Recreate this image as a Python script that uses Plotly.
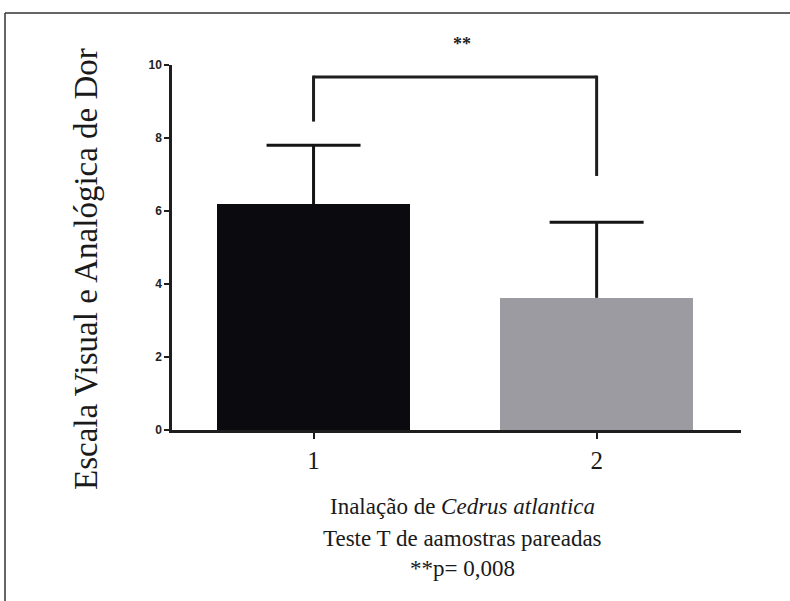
import plotly.graph_objects as go

# Data
groups = [1, 2]
means = [6.18, 3.62]
sd_upper = [1.62, 2.07]
bar_colors = ["#0a0a0f", "#9b9ba1"]
y_ticks = [0, 2, 4, 6, 8, 10]

# significance bracket (data units)
bracket_x = [1, 2]
bracket_top = 9.67
bracket_left_end = 8.45
bracket_right_end = 6.96
sig_label = "**"

x_title_lines = [
    "Inalação de <i>Cedrus atlantica</i>",
    "Teste T de aamostras pareadas",
    "**p= 0,008",
]
y_title = "Escala Visual e Analógica de Dor"

W, H = 790, 601
L, R, T, B = 172, 49, 65, 171
pw, ph = W - L - R, H - T - B
bar_width = 0.68
cap_half = 0.166

def px_x(px):
    return (px - L) / pw

def px_y(py):
    return (H - B - py) / ph

fig = go.Figure()
fig.add_trace(go.Bar(
    x=groups, y=means, width=bar_width,
    marker=dict(color=bar_colors, line=dict(width=0)),
    showlegend=False,
))

line_col = "#1e1e1e"
shapes = []
# error bars (upper only) in data coordinates
for g, m, s in zip(groups, means, sd_upper):
    shapes.append(dict(type="line", xref="x", yref="y", x0=g, x1=g, y0=m, y1=m + s,
                       line=dict(color="#151515", width=3)))
    shapes.append(dict(type="line", xref="x", yref="y", x0=g - cap_half, x1=g + cap_half,
                       y0=m + s, y1=m + s, line=dict(color="#151515", width=3)))
shapes += [
    dict(type="line", xref="x", yref="y", x0=bracket_x[0], x1=bracket_x[1],
         y0=bracket_top, y1=bracket_top, line=dict(color=line_col, width=3)),
    dict(type="line", xref="x", yref="y", x0=bracket_x[0], x1=bracket_x[0],
         y0=bracket_top + 0.04, y1=bracket_left_end, line=dict(color=line_col, width=3)),
    dict(type="line", xref="x", yref="y", x0=bracket_x[1], x1=bracket_x[1],
         y0=bracket_top + 0.04, y1=bracket_right_end, line=dict(color=line_col, width=3)),
    # frame lines
    dict(type="line", xref="paper", yref="paper", x0=px_x(5), x1=px_x(792),
         y0=px_y(13), y1=px_y(13), line=dict(color="#333333", width=1.5)),
    dict(type="line", xref="paper", yref="paper", x0=px_x(5), x1=px_x(5),
         y0=px_y(13), y1=px_y(603), line=dict(color="#333333", width=1.5)),
]

annotations = [
    dict(text=sig_label, x=px_x(462), y=px_y(44), xref="paper", yref="paper",
         showarrow=False, yanchor="middle",
         font=dict(family="Liberation Serif", size=18, color="#222222", weight="bold")),
    dict(text=y_title, x=px_x(86), y=px_y(269), xref="paper", yref="paper",
         showarrow=False, textangle=-90, xanchor="center", yanchor="middle",
         font=dict(family="Liberation Serif", size=33, color="#1a1a1a")),
]
for line, py in zip(x_title_lines, [507, 538, 568]):
    annotations.append(dict(text=line, x=px_x(462), y=px_y(py), xref="paper",
                            yref="paper", showarrow=False, yanchor="middle",
                            font=dict(family="Liberation Serif", size=23,
                                      color="#1a1a1a")))

fig.update_layout(
    width=W, height=H,
    margin=dict(l=L, r=R, t=T, b=B),
    paper_bgcolor="white", plot_bgcolor="white",
    shapes=shapes, annotations=annotations,
    bargap=0,
    xaxis=dict(range=[0.5, 2.51], tickvals=groups, ticktext=[str(g) for g in groups],
               showgrid=False, zeroline=False, showline=True, linecolor="#1e1e1e",
               linewidth=2.5, ticks="outside", ticklen=6, tickwidth=2,
               tickcolor="#1e1e1e",
               tickfont=dict(family="Liberation Serif", size=25, color="#1a1a1a")),
    yaxis=dict(range=[0, 10], tickvals=y_ticks, showgrid=False, zeroline=False,
               showline=True, linecolor="#1e1e1e", linewidth=2.5,
               ticks="outside", ticklen=5, tickwidth=2, tickcolor="#1e1e1e",
               tickfont=dict(family="Liberation Sans", size=12, color="#222222",
                             weight="bold")),
)

fig.write_html("out.html", config={"displayModeBar": False},
               post_script="document.body.style.margin='0px';")
